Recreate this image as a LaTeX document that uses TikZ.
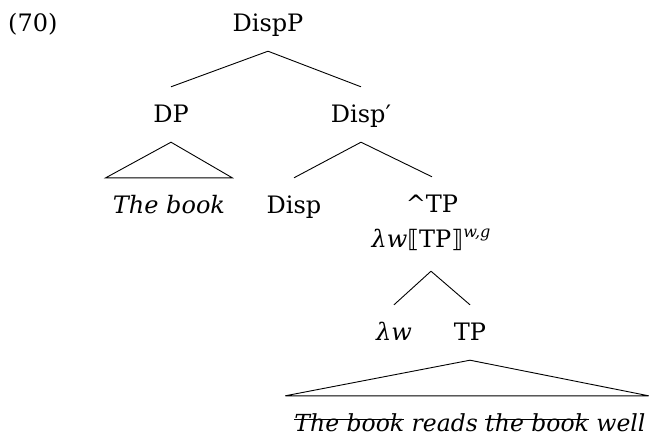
\documentclass[tikz,border=0pt]{standalone}
\usepackage{fontspec}
\setmainfont{DejaVu Serif}
\newfontfamily\brk{DejaVu Sans}
\newcommand\strk[1]{\setbox0\hbox{#1}\rlap{\raisebox{0.45em}{\rule{\wd0}{1.2pt}}}\box0\relax}
\begin{document}
\begin{tikzpicture}[x=1pt,y=-1pt,
  lbl/.style={anchor=base,inner xsep=0pt,inner ysep=15pt,text height=20pt,text depth=5pt,font=\fontsize{24}{27}\selectfont},
  edge/.style={line width=0.9pt}]
\useasboundingbox (0,0) rectangle (654,437);
\node[lbl,anchor=base west] (num) at (8,31) {(70)};
\node[lbl] (dispp) at (268,31) {DispP};
\node[lbl] (dp) at (171,122) {DP};
\node[lbl] (dispbar) at (361,122) {Disp′};
\node[lbl] (book) at (169,213) {\itshape The book};
\node[lbl] (disp) at (294,213) {Disp};
\node[lbl] (ctp) at (432,212) {\textasciicircum TP};
\node[lbl,text depth=9pt] (lam) at (431,247) {\itshape λw\/\upshape{\brk ⟦}TP{\brk ⟧}\raisebox{10pt}{\fontsize{16}{16}\selectfont\itshape w,g}};
\node[lbl] (lw) at (394,340) {\itshape λw};
\node[lbl] (tp) at (470,340) {TP};
\node[lbl,font=\fontsize{23.5}{26}\selectfont] (sent) at (470,431) {\itshape \strk{The book} reads \strk{the book} well};
\draw[edge] (dispp.south) -- (dp.north);
\draw[edge] (dispp.south) -- (dispbar.north);
\draw[edge] (dp.south) -- ([xshift=-7pt]book.north west) -- ([xshift=7pt]book.north east) -- cycle;
\draw[edge] (dispbar.south) -- (disp.north);
\draw[edge] (dispbar.south) -- (ctp.north);
\draw[edge] (lam.south) -- (lw.north);
\draw[edge] (lam.south) -- (tp.north);
\draw[edge] (tp.south) -- ([xshift=-9pt]sent.north west) -- ([xshift=3pt]sent.north east) -- cycle;
\end{tikzpicture}
\end{document}
